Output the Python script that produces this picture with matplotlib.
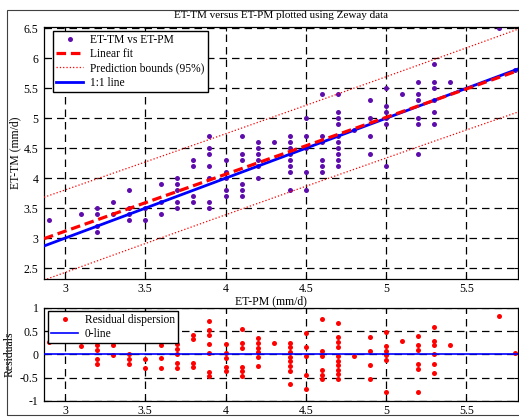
import numpy as np
import matplotlib
matplotlib.use("Agg")
import matplotlib.pyplot as plt
from matplotlib.patches import Rectangle

plt.rcParams['font.family'] = ['Liberation Serif', 'DejaVu Serif']
plt.rcParams['axes.unicode_minus'] = False

# ET-PM levels (mm/d) and the ET-TM values observed at each level
pm_levels = [2.9, 3.1, 3.2, 3.3, 3.4, 3.5, 3.6, 3.7, 3.8, 3.9,
             4.0, 4.1, 4.2, 4.3, 4.4, 4.5, 4.6, 4.7, 4.8, 4.9,
             5.0, 5.1, 5.2, 5.3, 5.4, 5.7, 5.8]
tm_at_level = [
    [3.3],
    [3.4],
    [3.5, 3.4, 3.2, 3.1],
    [3.6, 3.4],
    [3.8, 3.5, 3.4, 3.3],
    [3.5, 3.3],
    [3.9, 3.6, 3.4],
    [4.0, 3.9, 3.8, 3.6, 3.5],
    [4.3, 4.2, 3.7, 3.6],
    [4.7, 4.5, 4.4, 4.2, 4.0, 3.6, 3.5],
    [4.3, 4.1, 4.0, 3.8, 3.7],
    [4.7, 4.4, 4.3, 3.9, 3.8, 3.7],
    [4.6, 4.5, 4.4, 4.3, 4.2, 4.0],
    [4.6],
    [4.7, 4.6, 4.5, 4.4, 4.3, 4.2, 4.1, 3.8],
    [5.0, 4.7, 4.5, 4.1, 3.8],
    [5.4, 4.7, 4.6, 4.3, 4.2, 4.1],
    [5.4, 5.1, 5.0, 4.9, 4.7, 4.6, 4.5, 4.4, 4.3, 4.2],
    [4.8],
    [5.3, 5.0, 4.7, 4.4],
    [5.5, 5.2, 5.1, 5.0, 4.9, 4.2],
    [5.4],
    [5.6, 5.4, 5.3, 5.0, 4.9, 4.4],
    [5.9, 5.6, 5.5, 5.3, 5.1, 4.9],
    [5.6],
    [6.5],
    [5.8],
]

et_pm = np.array([p for p, tms in zip(pm_levels, tm_at_level) for _ in tms])
et_tm = np.array([t for tms in tm_at_level for t in tms])

x_lim = (2.87, 5.82)
t_95 = 1.98

# linear fit and 95% prediction bounds
slope, intercept = np.polyfit(et_pm, et_tm, 1)
resid = et_tm - (slope * et_pm + intercept)
n = len(et_pm)
s = np.sqrt(np.sum(resid ** 2) / (n - 2))
xm = et_pm.mean()
sxx = np.sum((et_pm - xm) ** 2)
xx = np.linspace(x_lim[0], x_lim[1], 200)
yfit = slope * xx + intercept
half = t_95 * s * np.sqrt(1 + 1 / n + (xx - xm) ** 2 / sxx)

fig = plt.figure(figsize=(5.19, 4.17), dpi=100)
ax1 = fig.add_axes([0.0848, 0.331, 0.913, 0.604])
ax2 = fig.add_axes([0.0848, 0.0384, 0.913, 0.223])

# frame round the figure
fig.patches.append(Rectangle((7 / 519, 2 / 417), 1.0, 1 - 12 / 417,
                             transform=fig.transFigure, fill=False,
                             edgecolor='#404040', lw=0.8))

purple = '#5E0DAC'
grid_kw = dict(color='k', linestyle=(0, (6, 4)), linewidth=0.9)
leg_kw = dict(loc='upper left', borderaxespad=0, fontsize=8.3, fancybox=False,
              edgecolor='k', framealpha=1, handlelength=2.3, handletextpad=0.6)

ax1.plot(et_pm, et_tm, 'o', color=purple, ms=3.6, mew=0, label='ET-TM vs ET-PM', zorder=2)
ax1.plot(xx, yfit, color='red', ls=(0, (3, 1.5)), lw=2.3, label='Linear fit', zorder=4)
ax1.plot(xx, yfit + half, color='red', ls=':', lw=0.9, label='Prediction bounds (95%)', zorder=3)
ax1.plot(xx, yfit - half, color='red', ls=':', lw=0.9, zorder=3)
ax1.plot(xx, xx, color='blue', lw=2.0, label='1:1 line', zorder=3)

ax1.set_xlim(*x_lim)
ax1.set_ylim(2.32, 6.52)
ax1.set_xticks([3, 3.5, 4, 4.5, 5, 5.5])
ax1.set_yticks([2.5, 3, 3.5, 4, 4.5, 5, 5.5, 6, 6.5])
ax1.xaxis.set_major_formatter(plt.FormatStrFormatter('%g'))
ax1.yaxis.set_major_formatter(plt.FormatStrFormatter('%g'))
ax1.grid(True, **grid_kw)
ax1.set_ylabel('ET-TM (mm/d)', fontsize=8.5)
ax1.yaxis.set_label_coords(-0.047, 0.5)
fig.text(281 / 519, 1 - 15.5 / 417, 'ET-TM versus ET-PM plotted using Zeway data',
         ha='center', va='center', fontsize=8)
fig.text(271 / 519, 1 - 301 / 417, 'ET-PM (mm/d)', ha='center', va='center', fontsize=8.5)
leg1 = ax1.legend(bbox_to_anchor=(0.019, 0.985), labelspacing=0.18, borderpad=0.3, **leg_kw)
leg1.get_frame().set_linewidth(1.0)

ax2.plot(et_pm, resid, 'o', color='red', ms=3.6, mew=0, label='Residual dispersion', zorder=2)
ax2.plot(list(x_lim), [0, 0], color='blue', lw=1.2, label='0-line', zorder=3)
ax2.set_xlim(*x_lim)
ax2.set_ylim(-1, 1)
ax2.set_xticks([3, 3.5, 4, 4.5, 5, 5.5])
ax2.set_yticks([-1, -0.5, 0, 0.5, 1])
ax2.xaxis.set_major_formatter(plt.FormatStrFormatter('%g'))
ax2.yaxis.set_major_formatter(plt.FormatStrFormatter('%g'))
ax2.grid(True, **grid_kw)
ax2.set_ylabel('Residuals', fontsize=8.5)
ax2.yaxis.set_label_coords(-0.059, 0.5)
leg2 = ax2.legend(bbox_to_anchor=(0.0084, 0.97), labelspacing=0.15, borderpad=0.3, **leg_kw)
leg2.get_frame().set_linewidth(1.0)

for ax in (ax1, ax2):
    ax.tick_params(direction='in', top=True, right=True, length=3, labelsize=8.5)
    ax.tick_params(axis='x', pad=3)
    ax.tick_params(axis='y', pad=4)
    for sp in ax.spines.values():
        sp.set_linewidth(0.9)

fig.savefig('out.png', dpi=100)
